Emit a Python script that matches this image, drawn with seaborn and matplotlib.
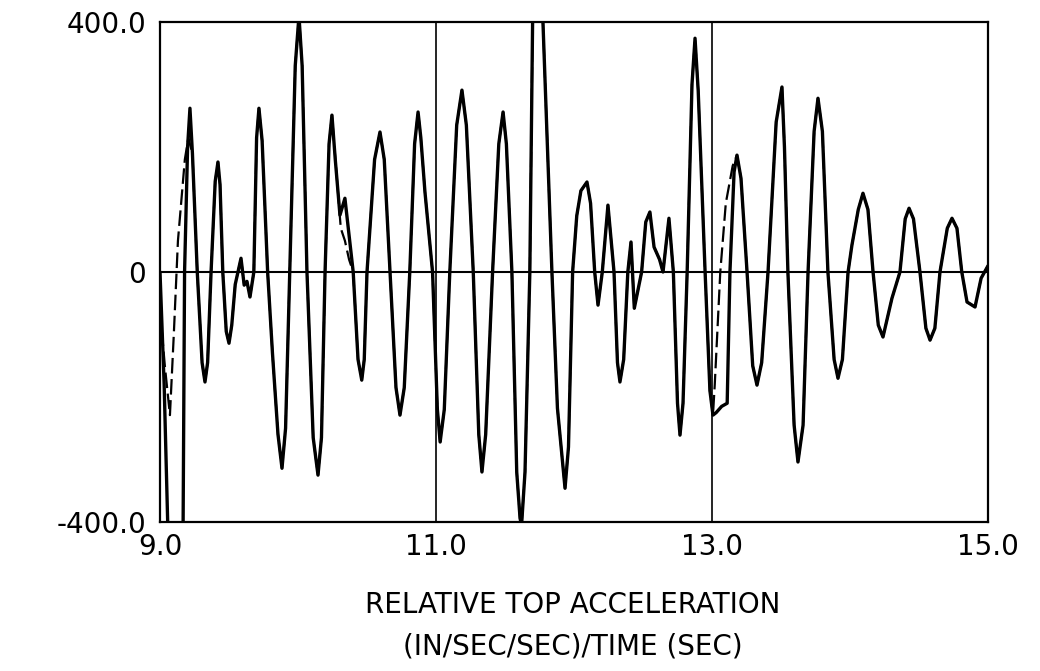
import numpy as np
import pandas as pd
import matplotlib
matplotlib.use("Agg")
import matplotlib.pyplot as plt
import seaborn as sns

# ---- data (time in sec, acceleration in in/sec/sec) ----
measured_time = [9.00, 9.03, 9.058, 9.12, 9.167, 9.178, 9.20, 9.217, 9.235, 9.27,
                 9.305, 9.326, 9.345, 9.37, 9.40, 9.42, 9.435, 9.455, 9.48, 9.50, 9.52,
                 9.545, 9.587, 9.61, 9.63, 9.652, 9.68, 9.70, 9.717, 9.74, 9.78,
                 9.815, 9.855, 9.884, 9.91, 9.94, 9.98, 10.007, 10.03, 10.065,
                 10.11, 10.145, 10.17, 10.196, 10.225, 10.246, 10.27, 10.304, 10.34,
                 10.40, 10.435, 10.462, 10.48, 10.50, 10.555, 10.594, 10.625, 10.667,
                 10.71, 10.739, 10.77, 10.81, 10.845, 10.87, 10.89, 10.92, 10.975,
                 11.01, 11.03, 11.06, 11.10, 11.15, 11.188, 11.22, 11.27,
                 11.31, 11.333, 11.36, 11.41, 11.455, 11.486, 11.51, 11.55,
                 11.585, 11.609, 11.62, 11.645, 11.68, 11.70, 11.74, 11.775, 11.84,
                 11.88, 11.935, 11.96, 11.99, 12.02, 12.05, 12.094, 12.12, 12.15,
                 12.174, 12.205, 12.246, 12.29, 12.315, 12.333, 12.36, 12.39,
                 12.413, 12.437, 12.49, 12.52, 12.55, 12.58, 12.62, 12.645, 12.688,
                 12.72, 12.75, 12.768, 12.79, 12.82, 12.855, 12.877, 12.90, 12.95,
                 12.985, 13.007, 13.03, 13.07, 13.11, 13.13, 13.16, 13.181, 13.21,
                 13.254, 13.295, 13.326, 13.36, 13.406, 13.465, 13.507, 13.525, 13.55,
                 13.595, 13.623, 13.66, 13.696, 13.74, 13.768, 13.80, 13.84,
                 13.885, 13.913, 13.945, 13.986, 14.014, 14.06, 14.094, 14.13, 14.167,
                 14.205, 14.239, 14.304, 14.362, 14.40, 14.428, 14.46, 14.507,
                 14.55, 14.58, 14.615, 14.652, 14.705, 14.739, 14.775, 14.81,
                 14.848, 14.906, 14.95, 15.00]
measured_accel = [0, -180, -420, -520, -420, 0, 200, 262, 190, 0,
                  -145, -176, -145, 0, 145, 176, 140, 0, -95, -114, -85,
                  -20, 22, -21, -15, -40, 0, 215, 262, 210, 0,
                  -130, -260, -314, -250, 0, 330, 410, 330, 0,
                  -265, -325, -265, 0, 205, 251, 180, 91, 118,
                  0, -140, -173, -140, 0, 180, 224, 180, 0,
                  -185, -229, -185, 0, 205, 256, 215, 128, 0,
                  -220, -272, -220, 0, 235, 291, 235, 0,
                  -260, -320, -260, 0, 205, 256, 205, 0,
                  -320, -394, -405, -320, 0, 400, 480, 400, 0,
                  -218, -346, -280, 0, 90, 130, 144, 110, 0,
                  -53, 0, 107, 0, -145, -176, -140, 0,
                  48, -58, 0, 80, 96, 40, 20, 0, 86,
                  0, -210, -261, -210, 0, 300, 374, 290, 0,
                  -190, -229, -225, -215, -210, 0, 160, 187, 150,
                  0, -150, -181, -145, 0, 240, 296, 200, 0,
                  -245, -304, -245, 0, 225, 278, 225, 0,
                  -140, -170, -140, 0, 43, 100, 126, 100, 0,
                  -85, -104, -42, 0, 85, 102, 85, 0,
                  -90, -109, -90, 0, 70, 86, 70, 0,
                  -48, -56, -10, 10]

# segments where the computed (dashed) curve departs from the measured one
computed_dev_time = [9.00, 9.035, 9.072, 9.10, 9.13, 9.18, 9.205, 9.235,
                     10.246, 10.31, 10.34, 10.37, 10.40,
                     13.007, 13.02, 13.06, 13.10, 13.15, 13.181]
computed_dev_accel = [-60, -150, -229, -100, 50, 180, 214, 190,
                      251, 70, 50, 20, 0,
                      -229, -180, 0, 110, 170, 187]
dev_windows = [(9.00, 9.235), (10.246, 10.40), (13.007, 13.181)]

x_ticks = [9.0, 11.0, 13.0, 15.0]
x_tick_labels = ["9.0", "11.0", "13.0", "15.0"]
y_ticks = [-400.0, 0.0, 400.0]
y_tick_labels = ["-400.0", "0", "400.0"]
title_lines = ["RELATIVE TOP ACCELERATION", "(IN/SEC/SEC)/TIME (SEC)"]

# ---- build tables ----
measured = pd.DataFrame({"time": measured_time, "accel": measured_accel})
keep = np.ones(len(measured), dtype=bool)
for a, b in dev_windows:
    keep &= ~((measured["time"] >= a) & (measured["time"] <= b))
computed = pd.concat([measured[keep],
                      pd.DataFrame({"time": computed_dev_time, "accel": computed_dev_accel})])
computed = computed.sort_values("time").reset_index(drop=True)

sns.set_style("white")
plt.rcParams["font.family"] = ["DejaVu Sans"]
plt.rcParams["text.color"] = "black"
plt.rcParams["xtick.color"] = "black"
plt.rcParams["ytick.color"] = "black"

fig = plt.figure(figsize=(10.4, 6.71), dpi=100)
ax = fig.add_axes([160 / 1040, 1 - 522 / 671, 828 / 1040, 500 / 671])

# grid lines at 11 and 13 and zero line
for xv in [11.0, 13.0]:
    ax.axvline(xv, color="black", lw=1.2, zorder=1)
ax.axhline(0, color="black", lw=1.5, zorder=1)

sns.lineplot(data=computed, x="time", y="accel", ax=ax, color="black", lw=1.6,
             sort=False, estimator=None, zorder=2)
ax.lines[-1].set_dashes([7, 2.5])
sns.lineplot(data=measured, x="time", y="accel", ax=ax, color="black", lw=2.4,
             sort=False, estimator=None, zorder=3)

ax.set_xlim(9.0, 15.0)
ax.set_ylim(-400, 400)
ax.set_xticks(x_ticks)
ax.set_yticks(y_ticks)
ax.set_xticklabels(x_tick_labels, fontsize=20, color="black")
ax.set_yticklabels(y_tick_labels, fontsize=20, color="black")
ax.tick_params(axis="both", length=0, pad=8)
ax.tick_params(axis="y", pad=10)
ax.set_xlabel("")
ax.set_ylabel("")
for s in ax.spines.values():
    s.set_visible(True)
    s.set_color("black")
    s.set_linewidth(1.6)

fig.text(573 / 1040, 1 - 605 / 671, title_lines[0], ha="center", va="center",
         fontsize=20, color="black")
fig.text(573 / 1040, 1 - 646 / 671, title_lines[1], ha="center", va="center",
         fontsize=20, color="black")

fig.savefig("out.png", dpi=100, facecolor="white")
